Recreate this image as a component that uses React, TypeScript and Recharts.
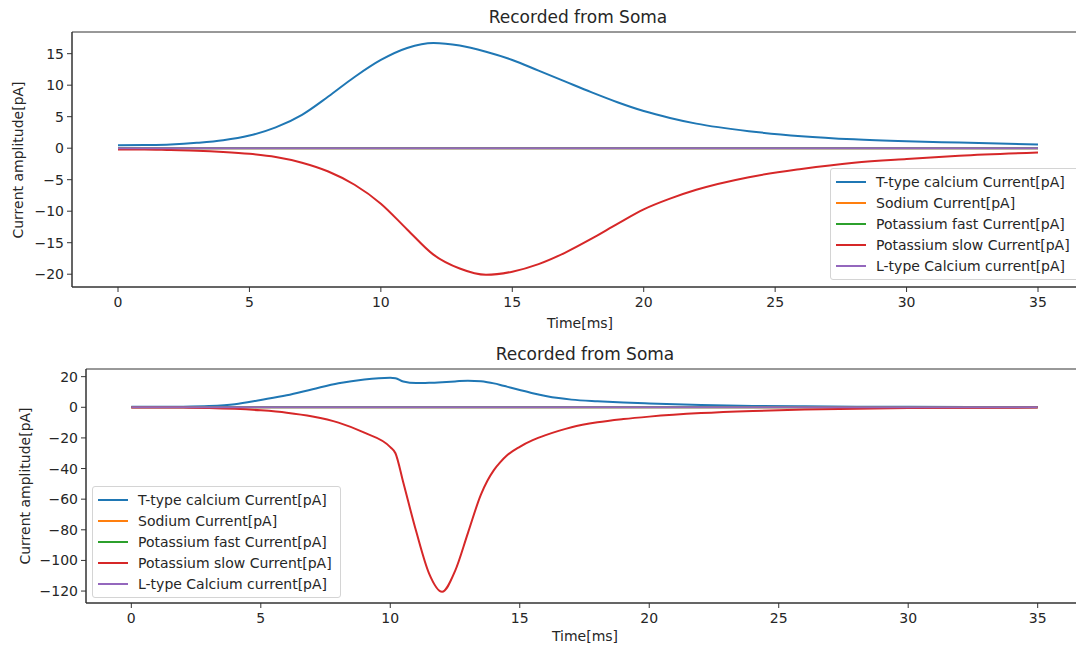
import React from "react";
import { LineChart, Line, XAxis, YAxis, ReferenceArea } from "recharts";

// Time samples [ms] and traces for the upper recording
const topTime = [0, 1, 2, 3, 4, 5, 6, 7, 8, 9, 10, 11, 12, 13, 14, 15, 16, 17, 18, 19, 20, 21, 22, 24, 26, 28, 30, 32, 35];
const topTType = [0.45, 0.5, 0.6, 0.85, 1.25, 2.0, 3.3, 5.3, 8.2, 11.3, 14.0, 15.9, 16.7, 16.3, 15.3, 14.0, 12.3, 10.6, 8.9, 7.3, 5.9, 4.8, 3.9, 2.7, 1.9, 1.4, 1.1, 0.9, 0.6];
const topKSlow = [-0.2, -0.2, -0.3, -0.4, -0.6, -0.9, -1.4, -2.3, -3.7, -5.8, -8.8, -12.9, -16.9, -19.1, -20.1, -19.6, -18.4, -16.6, -14.4, -12.0, -9.7, -8.0, -6.6, -4.6, -3.3, -2.3, -1.7, -1.2, -0.7];

// Time samples [ms] and traces for the lower recording
const botTime = [0, 1, 2, 3, 4, 5, 6, 7, 8, 9, 10, 10.2, 10.5, 11, 11.5, 12, 12.5, 13, 13.5, 13.75, 14, 14.25, 14.5, 15, 15.5, 16, 16.5, 17, 18, 19, 20, 22, 24, 26, 28, 30, 35];
const botTType = [0.3, 0.3, 0.4, 0.8, 2.0, 4.8, 7.8, 11.8, 15.7, 18.2, 19.3, 19.0, 16.8, 15.8, 16.0, 16.4, 16.9, 17.4, 17.0, 16.4, 15.6, 14.6, 13.5, 11.3, 9.2, 7.4, 6.0, 5.0, 3.9, 3.1, 2.5, 1.5, 0.9, 0.6, 0.4, 0.3, 0.2];
const botKSlow = [-0.1, -0.1, -0.2, -0.4, -1.0, -2.0, -3.5, -6.0, -10.0, -16.6, -26.0, -30.0, -49.0, -81.0, -108.6, -120.5, -107.0, -82.0, -57.0, -48.0, -41.0, -35.8, -31.5, -25.8, -21.5, -18.2, -15.4, -13.0, -9.8, -7.7, -6.1, -3.8, -2.4, -1.5, -0.9, -0.5, -0.2];

// Currents that stay at zero for the whole run
const flatTime = [0, 35];
const flatZero = [0, 0];

const seriesNames = [
  "T-type calcium Current[pA]",
  "Sodium Current[pA]",
  "Potassium fast Current[pA]",
  "Potassium slow Current[pA]",
  "L-type Calcium current[pA]",
];
const seriesColors = ["#1f77b4", "#ff7f0e", "#2ca02c", "#d62728", "#9467bd"];

const xTicks = [0, 5, 10, 15, 20, 25, 30, 35];
const topYTicks = [-20, -15, -10, -5, 0, 5, 10, 15];
const botYTicks = [-120, -100, -80, -60, -40, -20, 0, 20];

const toRows = (t: number[], v: number[]) => t.map((x, i) => ({ t: x, v: v[i] }));

const FONT = "'DejaVu Sans', sans-serif";
const INK = "#262626";
const X_DOMAIN: [number, number] = [-1.75, 36.75];

type PanelProps = {
  top: number;
  height: number;
  plotTop: number;
  plotLeft: number;
  xAxisHeight: number;
  rightGap: number;
  yDomain: [number, number];
  yTicks: number[];
  tType: { t: number; v: number }[];
  kSlow: { t: number; v: number }[];
};

function Panel(p: PanelProps) {
  const flat = toRows(flatTime, flatZero);
  const series = [p.tType, flat, flat, p.kSlow, flat];
  const tick = { fill: INK, fontSize: 14, fontFamily: FONT };
  return (
    <div style={{ position: "absolute", left: 0, top: p.top }}>
      <LineChart
        width={1100}
        height={p.height}
        margin={{ top: p.plotTop, right: p.rightGap, left: 0, bottom: 0 }}
      >
        <XAxis
          type="number"
          dataKey="t"
          domain={X_DOMAIN}
          ticks={xTicks}
          allowDataOverflow
          height={p.xAxisHeight}
          tick={tick}
          tickSize={5}
          tickMargin={5}
          stroke="#333"
        />
        <YAxis
          type="number"
          domain={p.yDomain}
          ticks={p.yTicks}
          allowDataOverflow
          width={p.plotLeft}
          tick={tick}
          tickSize={5}
          tickMargin={3}
          stroke="#333"
          tickFormatter={(v: number) => (v < 0 ? `\u2212${Math.abs(v)}` : `${v}`)}
        />
        <ReferenceArea
          x1={X_DOMAIN[0]}
          x2={X_DOMAIN[1]}
          y1={p.yDomain[0]}
          y2={p.yDomain[1]}
          fill="none"
          stroke="#333"
          strokeWidth={1}
          ifOverflow="visible"
        />
        {series.map((rows, i) => (
          <Line
            key={seriesNames[i]}
            data={rows}
            dataKey="v"
            name={seriesNames[i]}
            type="monotone"
            stroke={seriesColors[i]}
            strokeWidth={2}
            dot={false}
            activeDot={false}
            isAnimationActive={false}
          />
        ))}
      </LineChart>
    </div>
  );
}

function LegendBox({ left, top }: { left: number; top: number }) {
  return (
    <div
      style={{
        position: "absolute",
        left,
        top,
        padding: "2px 8px 2px 5px",
        border: "1px solid #d4d4d4",
        borderRadius: 3,
        background: "rgba(255,255,255,0.85)",
        fontFamily: FONT,
        fontSize: 14,
        color: INK,
      }}
    >
      {seriesNames.map((n, i) => (
        <div key={n} style={{ display: "flex", alignItems: "center", height: 21.2 }}>
          <span style={{ width: 30, height: 2, background: seriesColors[i], marginRight: 10 }} />
          <span style={{ whiteSpace: "nowrap" }}>{n}</span>
        </div>
      ))}
    </div>
  );
}

const textStyle: React.CSSProperties = {
  position: "absolute",
  fontFamily: FONT,
  fontSize: 14,
  color: INK,
  whiteSpace: "nowrap",
  transform: "translate(-50%, -50%)",
};

export default function App() {
  return (
    <div
      style={{
        position: "absolute",
        left: 0,
        top: 0,
        width: 1076,
        height: 650,
        overflow: "hidden",
        background: "#fff",
      }}
    >
      <Panel
        top={0}
        height={340}
        plotTop={32}
        plotLeft={72}
        xAxisHeight={53}
        rightGap={16}
        yDomain={[-22.03, 18.44]}
        yTicks={topYTicks}
        tType={toRows(topTime, topTType)}
        kSlow={toRows(topTime, topKSlow)}
      />
      <Panel
        top={340}
        height={310}
        plotTop={29}
        plotLeft={86}
        xAxisHeight={47}
        rightGap={17}
        yDomain={[-127.8, 25.0]}
        yTicks={botYTicks}
        tType={toRows(botTime, botTType)}
        kSlow={toRows(botTime, botKSlow)}
      />

      <div style={{ ...textStyle, left: 578, top: 17, fontSize: 17 }}>Recorded from Soma</div>
      <div style={{ ...textStyle, left: 580, top: 323 }}>Time[ms]</div>
      <div style={{ ...textStyle, left: 18, top: 160, transform: "translate(-50%, -50%) rotate(-90deg)" }}>
        Current amplitude[pA]
      </div>

      <div style={{ ...textStyle, left: 585, top: 354, fontSize: 17 }}>Recorded from Soma</div>
      <div style={{ ...textStyle, left: 585, top: 636 }}>Time[ms]</div>
      <div style={{ ...textStyle, left: 25, top: 486, transform: "translate(-50%, -50%) rotate(-90deg)" }}>
        Current amplitude[pA]
      </div>

      <LegendBox left={830} top={168} />
      <LegendBox left={92} top={486} />
    </div>
  );
}
